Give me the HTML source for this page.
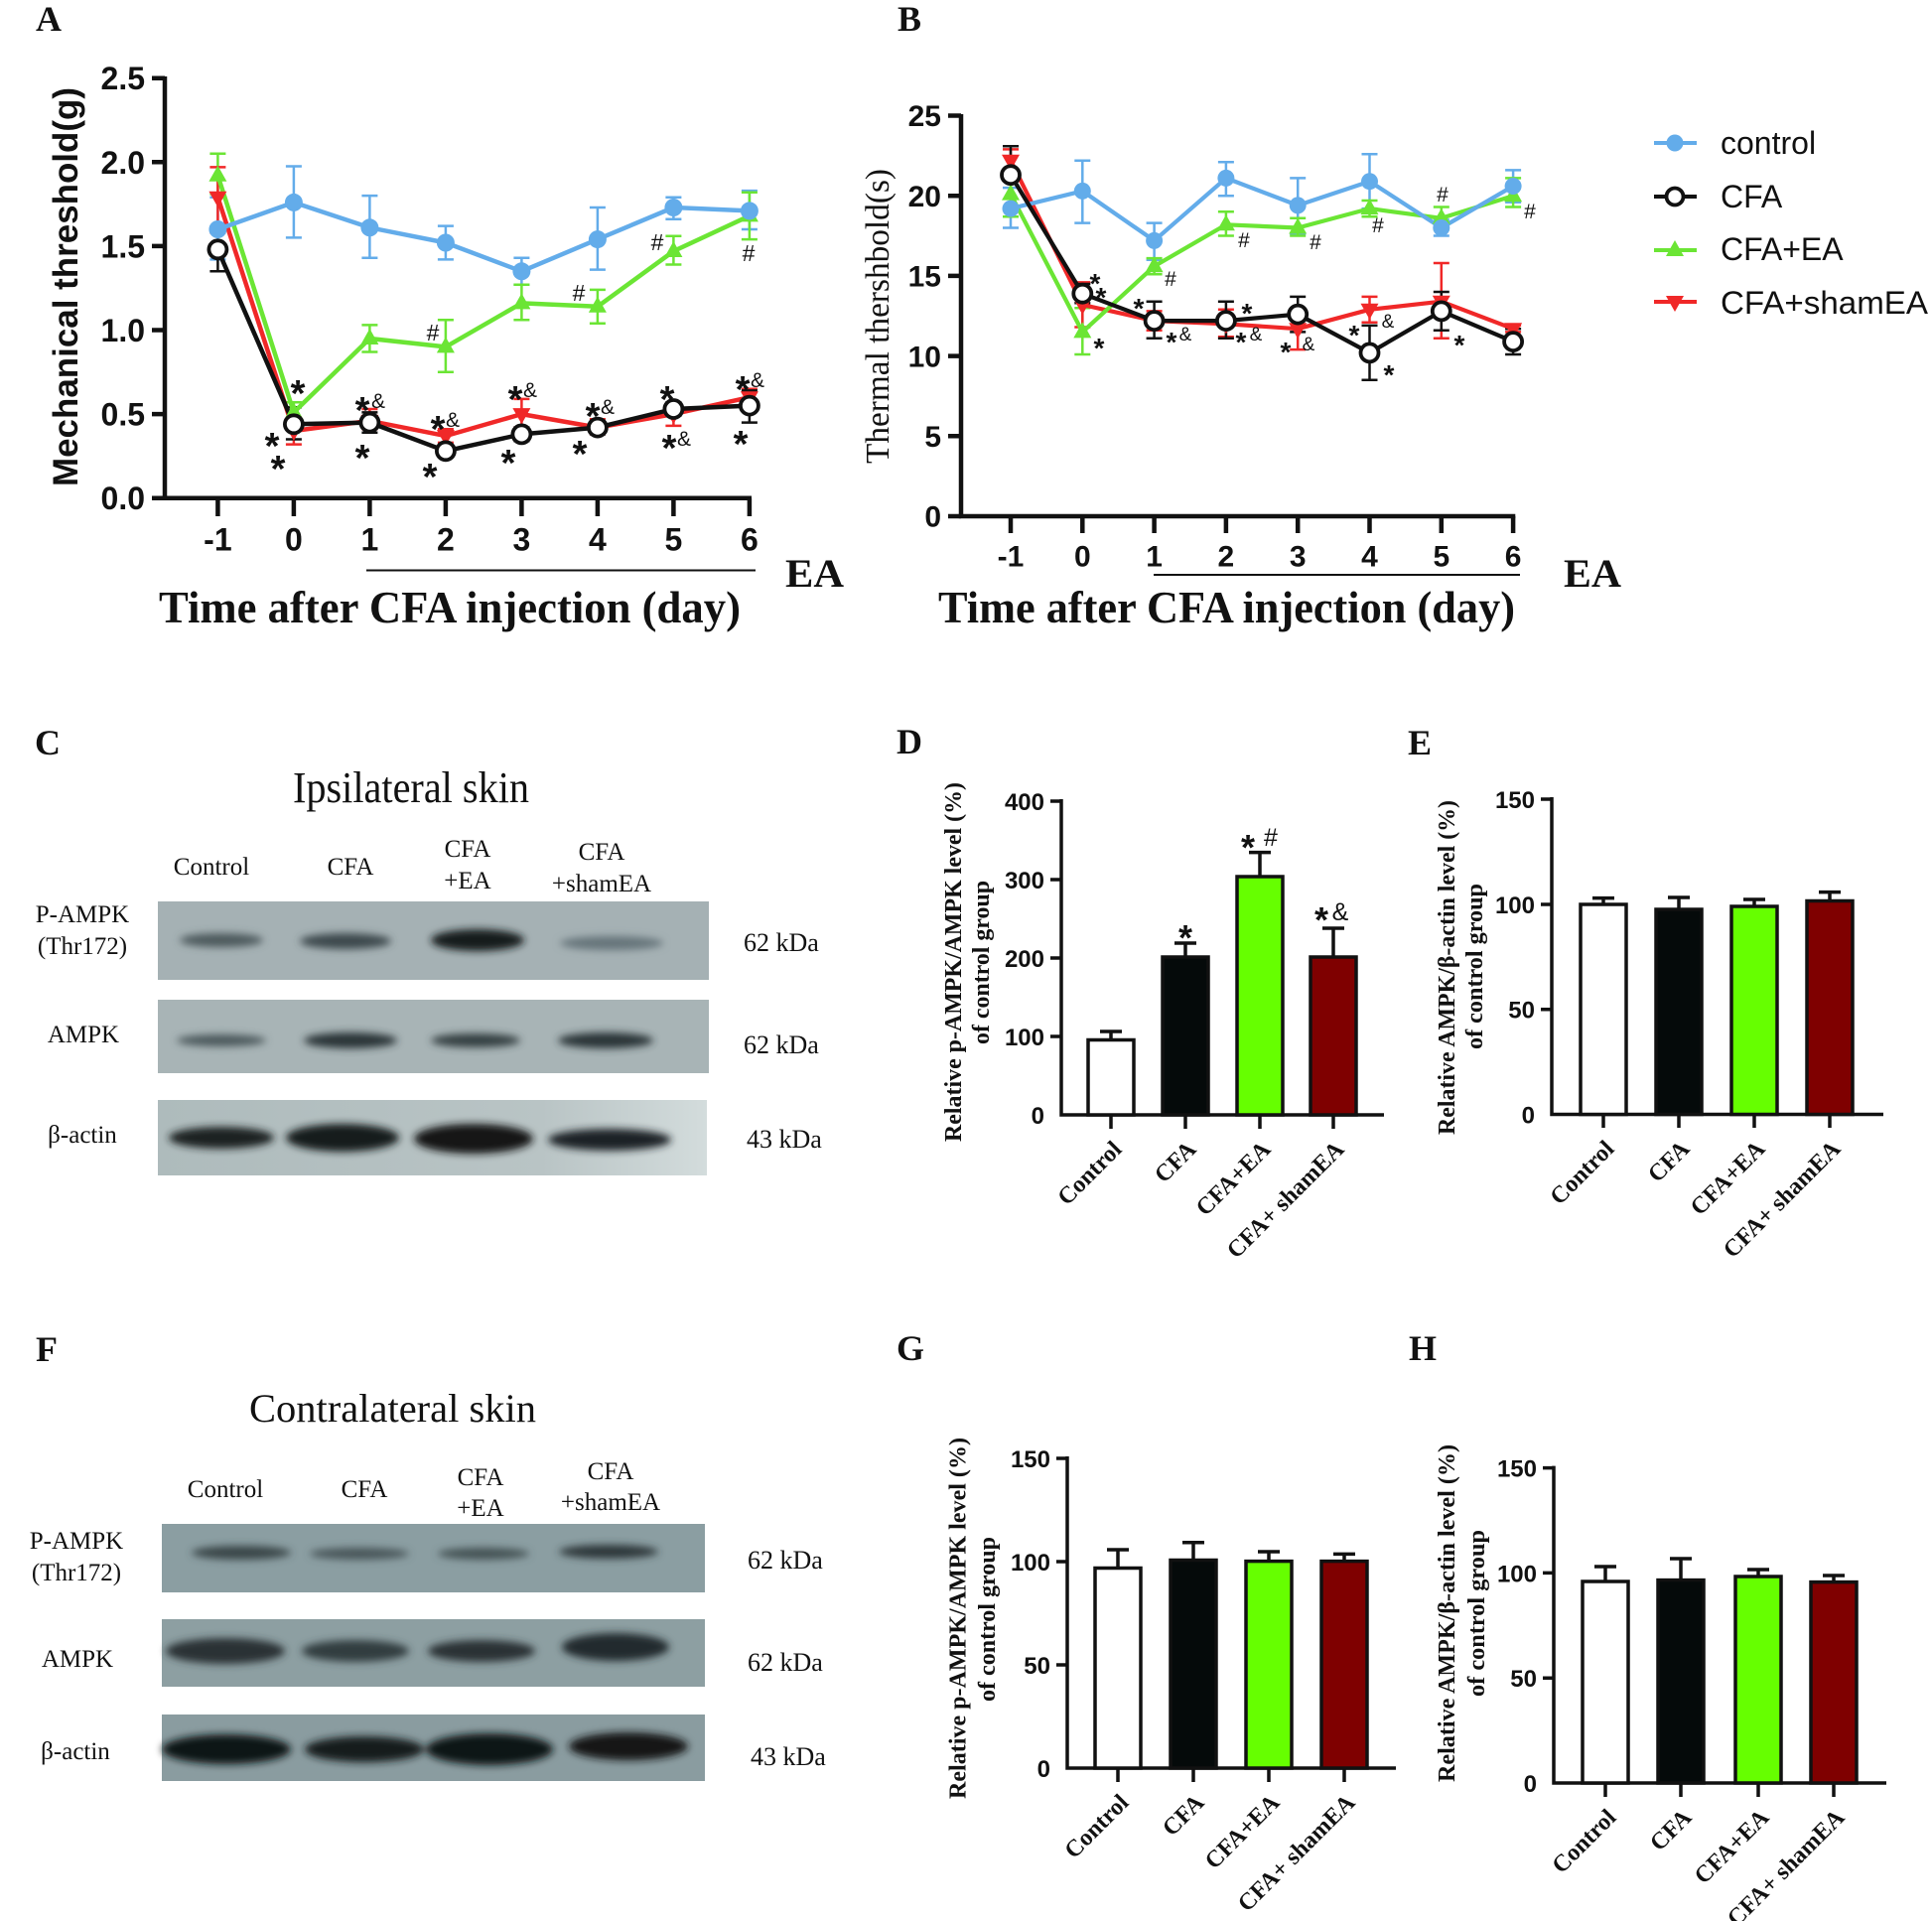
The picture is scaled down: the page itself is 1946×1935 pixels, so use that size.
<!DOCTYPE html>
<html><head><meta charset="utf-8"><style>html,body{margin:0;padding:0;background:#fff}svg{display:block}</style></head>
<body>
<svg xmlns="http://www.w3.org/2000/svg" width="1946" height="1935" viewBox="0 0 1946 1935">
<defs>
<filter id="bl" x="-30%" y="-150%" width="160%" height="400%"><feGaussianBlur stdDeviation="4"/></filter>
<linearGradient id="gC3" x1="0" x2="1" y1="0" y2="0"><stop offset="0" stop-color="#aebbbc"/><stop offset="0.7" stop-color="#b9c4c5"/><stop offset="1" stop-color="#d3dcdc"/></linearGradient>
</defs>
<rect width="1946" height="1935" fill="#fff"/>

<g font-family="'Liberation Serif',serif" font-weight="bold" fill="#111">
<text x="36" y="31" font-size="36">A</text>
<text x="904" y="31" font-size="36">B</text>
<text x="35" y="760" font-size="36">C</text>
<text x="903" y="759" font-size="36">D</text>
<text x="1418" y="760" font-size="36">E</text>
<text x="36" y="1371" font-size="36">F</text>
<text x="903" y="1370" font-size="36">G</text>
<text x="1419" y="1370" font-size="36">H</text>
</g>

<!-- ================= PANEL A ================= -->
<g stroke="#111" stroke-width="4.5" fill="none">
<path d="M166 77V503.9M163.8 501.7H757"/>
<path d="M153 78.7H166M153 163.3H166M153 247.9H166M153 332.5H166M153 417.1H166M153 501.7H166"/>
<path d="M219.4 501.7V520M295.9 501.7V520M372.4 501.7V520M448.9 501.7V520M525.4 501.7V520M601.9 501.7V520M678.4 501.7V520M754.9 501.7V520"/>
</g>
<g font-family="'Liberation Sans',sans-serif" font-weight="bold" font-size="32" fill="#111" text-anchor="end">
<text x="146" y="90.2">2.5</text><text x="146" y="174.8">2.0</text><text x="146" y="259.4">1.5</text><text x="146" y="344">1.0</text><text x="146" y="428.6">0.5</text><text x="146" y="513.2">0.0</text>
</g>
<g font-family="'Liberation Sans',sans-serif" font-weight="bold" font-size="32" fill="#111" text-anchor="middle">
<text x="219.4" y="554.5">-1</text><text x="295.9" y="554.5">0</text><text x="372.4" y="554.5">1</text><text x="448.9" y="554.5">2</text><text x="525.4" y="554.5">3</text><text x="601.9" y="554.5">4</text><text x="678.4" y="554.5">5</text><text x="754.9" y="554.5">6</text>
</g>
<text transform="translate(78,289) rotate(-90)" text-anchor="middle" font-family="'Liberation Sans',sans-serif" font-weight="bold" font-size="35" fill="#111" textLength="402" lengthAdjust="spacingAndGlyphs">Mechanical threshold(g)</text>
<path d="M369 574.5H761" stroke="#111" stroke-width="2"/>
<text x="791" y="591" font-family="'Liberation Serif',serif" font-weight="bold" font-size="40" fill="#111" textLength="59" lengthAdjust="spacingAndGlyphs">EA</text>
<text x="160" y="627" font-family="'Liberation Serif',serif" font-weight="bold" font-size="46" fill="#111" textLength="586" lengthAdjust="spacingAndGlyphs">Time after CFA injection (day)</text>

<g fill="none" stroke-width="2.5">
<path stroke="#63acea" d="M219.4 198.8V261.4M211.4 198.8h16M211.4 261.4h16M295.9 167.5V239.4M287.9 167.5h16M287.9 239.4h16M372.4 197.1V259.7M364.4 197.1h16M364.4 259.7h16M448.9 227.6V261.4M440.9 227.6h16M440.9 261.4h16M525.4 259.7V286.8M517.4 259.7h16M517.4 286.8h16M601.9 209V271.6M593.9 209h16M593.9 271.6h16M678.4 198.8V220.8M670.4 198.8h16M670.4 220.8h16M754.9 192.1V231M746.9 192.1h16M746.9 231h16"/>
<path stroke="#6be534" d="M219.4 154.8V195.4M211.4 154.8h16M211.4 195.4h16M295.9 405.3V425.6M287.9 405.3h16M287.9 425.6h16M372.4 327.4V354.5M364.4 327.4h16M364.4 354.5h16M448.9 322.3V374.8M440.9 322.3h16M440.9 374.8h16M525.4 286.8V322.3M517.4 286.8h16M517.4 322.3h16M601.9 291.9V325.7M593.9 291.9h16M593.9 325.7h16M678.4 237.7V266.5M670.4 237.7h16M670.4 266.5h16M754.9 193.8V241.1M746.9 193.8h16M746.9 241.1h16"/>
<path stroke="#f02828" d="M219.4 168.4V234.4M211.4 168.4h16M211.4 234.4h16M295.9 420.5V447.6M287.9 420.5h16M287.9 447.6h16M372.4 412V432.3M364.4 412h16M364.4 432.3h16M448.9 432.3V445.9M440.9 432.3h16M440.9 445.9h16M525.4 401.9V430.6M517.4 401.9h16M517.4 430.6h16M601.9 422.2V437.4M593.9 422.2h16M593.9 437.4h16M678.4 408.6V428.9M670.4 408.6h16M670.4 428.9h16M754.9 391.7V407M746.9 391.7h16M746.9 407h16"/>
<path stroke="#111" d="M219.4 251.3V273.3M211.4 273.3h16M295.9 410.3V442.5M287.9 410.3h16M287.9 442.5h16M372.4 415.4V435.7M364.4 415.4h16M364.4 435.7h16M448.9 449.2V459.4M440.9 449.2h16M440.9 459.4h16M525.4 430.6V444.2M517.4 430.6h16M517.4 444.2h16M601.9 423.9V437.4M593.9 423.9h16M593.9 437.4h16M678.4 405.3V418.8M670.4 405.3h16M670.4 418.8h16M754.9 393.4V425.6M746.9 393.4h16M746.9 425.6h16"/>
</g>
<g fill="none" stroke-width="4.5" stroke-linejoin="round">
<polyline stroke="#f02828" points="219.4,198.8 295.9,434 372.4,423.9 448.9,439.1 525.4,417.1 601.9,430.6 678.4,417.1 754.9,400.2"/>
<polyline stroke="#6be534" points="219.4,176.8 295.9,415.4 372.4,341 448.9,349.4 525.4,305.4 601.9,308.8 678.4,253 754.9,217.4"/>
<polyline stroke="#63acea" points="219.4,231 295.9,203.9 372.4,229.3 448.9,244.5 525.4,273.3 601.9,241.1 678.4,209 754.9,212.4"/>
<polyline stroke="#111" points="219.4,251.3 295.9,427.3 372.4,425.6 448.9,454.3 525.4,437.4 601.9,430.6 678.4,412 754.9,408.6"/>
</g>
<path fill="#f02828" d="M219.4 208.8l9 -16h-18zM295.9 444l9 -16h-18zM372.4 433.9l9 -16h-18zM448.9 449.1l9 -16h-18zM525.4 427.1l9 -16h-18zM601.9 440.6l9 -16h-18zM678.4 427.1l9 -16h-18zM754.9 410.2l9 -16h-18z"/>
<path fill="#6be534" d="M219.4 166.8l9 16h-18zM295.9 405.4l9 16h-18zM372.4 331l9 16h-18zM448.9 339.4l9 16h-18zM525.4 295.4l9 16h-18zM601.9 298.8l9 16h-18zM678.4 243l9 16h-18zM754.9 207.4l9 16h-18z"/>
<g fill="#63acea">
<circle cx="219.4" cy="231" r="9"/><circle cx="295.9" cy="203.9" r="9"/><circle cx="372.4" cy="229.3" r="9"/><circle cx="448.9" cy="244.5" r="9"/><circle cx="525.4" cy="273.3" r="9"/><circle cx="601.9" cy="241.1" r="9"/><circle cx="678.4" cy="209" r="9"/><circle cx="754.9" cy="212.4" r="9"/>
</g>
<g fill="#fff" stroke="#111" stroke-width="3.8">
<circle cx="219.4" cy="251.3" r="9"/><circle cx="295.9" cy="427.3" r="9"/><circle cx="372.4" cy="425.6" r="9"/><circle cx="448.9" cy="454.3" r="9"/><circle cx="525.4" cy="437.4" r="9"/><circle cx="601.9" cy="430.6" r="9"/><circle cx="678.4" cy="412" r="9"/><circle cx="754.9" cy="408.6" r="9"/>
</g>
<g font-family="'Liberation Sans',sans-serif" font-weight="bold" fill="#111" text-anchor="middle">
<g font-size="38">
<text x="300" y="409">*</text><text x="274" y="462">*</text><text x="280" y="485">*</text>
<text x="365" y="426">*</text><text x="365" y="474">*</text>
<text x="441" y="445">*</text><text x="433" y="493">*</text>
<text x="519" y="415">*</text><text x="512" y="479">*</text>
<text x="597" y="432">*</text><text x="584" y="470">*</text>
<text x="672" y="415">*</text><text x="674" y="464">*</text>
<text x="748" y="405">*</text><text x="746" y="460">*</text>
</g>
<g font-size="21" font-weight="normal">
<text x="381" y="411">&amp;</text><text x="456" y="430">&amp;</text><text x="534" y="400">&amp;</text><text x="612" y="417">&amp;</text><text x="689" y="449">&amp;</text><text x="763" y="390">&amp;</text>
</g>
<g font-size="23" font-weight="normal">
<text x="436" y="343">#</text><text x="583" y="303">#</text><text x="662" y="252">#</text><text x="754" y="263">#</text>
</g>
</g>

<!-- ================= PANEL B ================= -->
<g stroke="#111" stroke-width="4.5" fill="none">
<path d="M968 115V522.2M965.8 520H1526.3"/>
<path d="M955 116.5H968M955 197.2H968M955 277.9H968M955 358.6H968M955 439.3H968M955 520H968"/>
<path d="M1018 520V537M1090.3 520V537M1162.6 520V537M1234.9 520V537M1307.2 520V537M1379.5 520V537M1451.8 520V537M1524.1 520V537"/>
</g>
<g font-family="'Liberation Sans',sans-serif" font-weight="bold" font-size="30" fill="#111" text-anchor="end">
<text x="948" y="127.2">25</text><text x="948" y="207.9">20</text><text x="948" y="288.6">15</text><text x="948" y="369.3">10</text><text x="948" y="450">5</text><text x="948" y="530.7">0</text>
</g>
<g font-family="'Liberation Sans',sans-serif" font-weight="bold" font-size="30" fill="#111" text-anchor="middle">
<text x="1018" y="570.7">-1</text><text x="1090.3" y="570.7">0</text><text x="1162.6" y="570.7">1</text><text x="1234.9" y="570.7">2</text><text x="1307.2" y="570.7">3</text><text x="1379.5" y="570.7">4</text><text x="1451.8" y="570.7">5</text><text x="1524.1" y="570.7">6</text>
</g>
<text transform="translate(895,318.5) rotate(-90)" text-anchor="middle" font-family="'Liberation Serif',serif" font-size="34" fill="#111" textLength="297" lengthAdjust="spacingAndGlyphs">Thermal thershbold(s)</text>
<path d="M1162 579H1531" stroke="#111" stroke-width="2"/>
<text x="1575" y="591" font-family="'Liberation Serif',serif" font-weight="bold" font-size="40" fill="#111" textLength="58" lengthAdjust="spacingAndGlyphs">EA</text>
<text x="945" y="627" font-family="'Liberation Serif',serif" font-weight="bold" font-size="46" fill="#111" textLength="581" lengthAdjust="spacingAndGlyphs">Time after CFA injection (day)</text>

<g fill="none" stroke-width="2.5">
<path stroke="#63acea" d="M1018 189.1V229.5M1010 189.1h16M1010 229.5h16M1090.3 161.7V224.6M1082.3 161.7h16M1082.3 224.6h16M1162.6 224.6V261.8M1154.6 224.6h16M1154.6 261.8h16M1234.9 163.3V197.2M1226.9 163.3h16M1226.9 197.2h16M1307.2 179.4V235.9M1299.2 179.4h16M1299.2 235.9h16M1379.5 155.2V210.1M1371.5 155.2h16M1371.5 210.1h16M1451.8 221.4V237.5M1443.8 221.4h16M1443.8 237.5h16M1524.1 171.4V203.7M1516.1 171.4h16M1516.1 203.7h16"/>
<path stroke="#6be534" d="M1018 181.1V218.2M1010 181.1h16M1010 218.2h16M1090.3 310.2V357M1082.3 310.2h16M1082.3 357h16M1162.6 260.1V276.3M1154.6 260.1h16M1154.6 276.3h16M1234.9 213.3V237.5M1226.9 213.3h16M1226.9 237.5h16M1307.2 219.8V237.5M1299.2 219.8h16M1299.2 237.5h16M1379.5 202V218.2M1371.5 202h16M1371.5 218.2h16M1451.8 208.5V231.1M1443.8 208.5h16M1443.8 231.1h16M1524.1 179.4V208.5M1516.1 179.4h16M1516.1 208.5h16"/>
<path stroke="#f02828" d="M1018 150.4V173M1010 150.4h16M1010 173h16M1090.3 284.4V329.5M1082.3 284.4h16M1082.3 329.5h16M1162.6 313.4V332.8M1154.6 313.4h16M1154.6 332.8h16M1234.9 311.8V339.2M1226.9 311.8h16M1226.9 339.2h16M1307.2 311.8V352.1M1299.2 311.8h16M1299.2 352.1h16M1379.5 298.9V324.7M1371.5 298.9h16M1371.5 324.7h16M1451.8 265V340.8M1443.8 265h16M1443.8 340.8h16M1524.1 327.9V334.4M1516.1 327.9h16M1516.1 334.4h16"/>
<path stroke="#111" d="M1018 147.2V176.2M1010 147.2h16M1090.3 286V305.3M1082.3 286h16M1082.3 305.3h16M1162.6 303.7V340.8M1154.6 303.7h16M1154.6 340.8h16M1234.9 303.7V340.8M1226.9 303.7h16M1226.9 340.8h16M1307.2 298.9V334.4M1299.2 298.9h16M1299.2 334.4h16M1379.5 327.9V382.8M1371.5 327.9h16M1371.5 382.8h16M1451.8 294V332.8M1443.8 294h16M1443.8 332.8h16M1524.1 331.2V357M1516.1 331.2h16M1516.1 357h16"/>
</g>
<g fill="none" stroke-width="4.2" stroke-linejoin="round">
<polyline stroke="#f02828" points="1018,161.7 1090.3,307 1162.6,323.1 1234.9,326.3 1307.2,331.2 1379.5,311.8 1451.8,303.7 1524.1,331.2"/>
<polyline stroke="#6be534" points="1018,195.6 1090.3,334.4 1162.6,268.2 1234.9,226.3 1307.2,229.5 1379.5,210.1 1451.8,219.8 1524.1,197.2"/>
<polyline stroke="#63acea" points="1018,210.1 1090.3,192.4 1162.6,242.4 1234.9,179.4 1307.2,206.9 1379.5,182.7 1451.8,229.5 1524.1,187.5"/>
<polyline stroke="#111" points="1018,176.2 1090.3,295.7 1162.6,323.1 1234.9,323.1 1307.2,316.6 1379.5,355.4 1451.8,313.4 1524.1,344.1"/>
</g>
<path fill="#f02828" d="M1018 171.7l9 -16h-18zM1090.3 317l9 -16h-18zM1162.6 333.1l9 -16h-18zM1234.9 336.3l9 -16h-18zM1307.2 341.2l9 -16h-18zM1379.5 321.8l9 -16h-18zM1451.8 313.7l9 -16h-18zM1524.1 341.2l9 -16h-18z"/>
<path fill="#6be534" d="M1018 185.6l9 16h-18zM1090.3 324.4l9 16h-18zM1162.6 258.2l9 16h-18zM1234.9 216.3l9 16h-18zM1307.2 219.5l9 16h-18zM1379.5 200.1l9 16h-18zM1451.8 209.8l9 16h-18zM1524.1 187.2l9 16h-18z"/>
<g fill="#63acea">
<circle cx="1018" cy="210.1" r="8.5"/><circle cx="1090.3" cy="192.4" r="8.5"/><circle cx="1162.6" cy="242.4" r="8.5"/><circle cx="1234.9" cy="179.4" r="8.5"/><circle cx="1307.2" cy="206.9" r="8.5"/><circle cx="1379.5" cy="182.7" r="8.5"/><circle cx="1451.8" cy="229.5" r="8.5"/><circle cx="1524.1" cy="187.5" r="8.5"/>
</g>
<g fill="#fff" stroke="#111" stroke-width="3.8">
<circle cx="1018" cy="176.2" r="9"/><circle cx="1090.3" cy="295.7" r="9"/><circle cx="1162.6" cy="323.1" r="9"/><circle cx="1234.9" cy="323.1" r="9"/><circle cx="1307.2" cy="316.6" r="9"/><circle cx="1379.5" cy="355.4" r="9"/><circle cx="1451.8" cy="313.4" r="9"/><circle cx="1524.1" cy="344.1" r="9"/>
</g>
<g font-family="'Liberation Sans',sans-serif" font-weight="bold" fill="#111" text-anchor="middle">
<g font-size="28">
<text x="1103" y="295">*</text><text x="1109" y="309">*</text><text x="1107" y="360">*</text><text x="1147" y="320">*</text><text x="1180" y="354">*</text><text x="1256" y="325">*</text><text x="1250" y="354">*</text><text x="1295" y="364">*</text><text x="1364" y="347">*</text><text x="1399" y="387">*</text><text x="1470" y="357">*</text>
</g>
<g font-size="19" font-weight="normal">
<text x="1194" y="343">&amp;</text><text x="1265" y="343">&amp;</text><text x="1318" y="353">&amp;</text><text x="1398" y="330">&amp;</text>
</g>
<g font-size="21" font-weight="normal">
<text x="1179" y="288">#</text><text x="1253" y="249">#</text><text x="1325" y="251">#</text><text x="1388" y="234">#</text><text x="1453" y="203">#</text><text x="1541" y="220">#</text>
</g>
</g>
<g stroke-width="4" fill="none">
<path d="M1666 144H1709" stroke="#63acea"/><path d="M1666 198H1709" stroke="#111"/><path d="M1666 252H1709" stroke="#6be534"/><path d="M1666 304H1709" stroke="#f02828"/>
</g>
<circle cx="1687" cy="144" r="8.5" fill="#63acea"/>
<circle cx="1687" cy="198" r="8.5" fill="#fff" stroke="#111" stroke-width="3.8"/>
<path d="M1687 242l9 16h-18z" fill="#6be534"/>
<path d="M1687 314l9 -16h-18z" fill="#f02828"/>
<g font-family="'Liberation Sans',sans-serif" font-size="32" fill="#111">
<text x="1733" y="155">control</text><text x="1733" y="209">CFA</text><text x="1733" y="262">CFA+EA</text><text x="1733" y="316" textLength="209" lengthAdjust="spacingAndGlyphs">CFA+shamEA</text>
</g>

<!-- ================= PANEL C ================= -->
<rect x="159" y="908" width="555" height="79" fill="#a5b1b4"/>
<rect x="159" y="1007" width="555" height="74" fill="#a8b4b6"/>
<rect x="159" y="1108" width="553" height="76" fill="url(#gC3)"/>
<g filter="url(#bl)">
<ellipse cx="223" cy="947" rx="42" ry="7" fill="#4d5a5d"/>
<ellipse cx="348" cy="948" rx="46" ry="8" fill="#3e4a4d"/>
<ellipse cx="481" cy="947" rx="47" ry="11" fill="#141a1c"/>
<ellipse cx="616" cy="950" rx="52" ry="7" fill="#66757a"/>
<ellipse cx="223" cy="1048" rx="45" ry="6" fill="#4b585b"/>
<ellipse cx="353" cy="1048" rx="47" ry="8" fill="#2c3639"/>
<ellipse cx="479" cy="1048" rx="45" ry="7" fill="#343f42"/>
<ellipse cx="610" cy="1048" rx="48" ry="8" fill="#2a3437"/>
<ellipse cx="223" cy="1146" rx="53" ry="11" fill="#1a2022"/>
<ellipse cx="345" cy="1146" rx="57" ry="14" fill="#161c1e"/>
<ellipse cx="477" cy="1147" rx="60" ry="15" fill="#121719"/>
<ellipse cx="614" cy="1148" rx="62" ry="11" fill="#1c2325"/>
</g>
<g font-family="'Liberation Serif',serif" fill="#111">
<text x="295" y="808" font-size="44" textLength="238" lengthAdjust="spacingAndGlyphs">Ipsilateral skin</text>
<g font-size="25" text-anchor="middle">
<text x="213" y="881">Control</text><text x="353" y="881">CFA</text>
<text x="471" y="863">CFA</text><text x="471" y="895">+EA</text>
<text x="606" y="866">CFA</text><text x="606" y="898">+shamEA</text>
<text x="83" y="929">P-AMPK</text><text x="83" y="961">(Thr172)</text>
<text x="84" y="1050">AMPK</text><text x="83" y="1151">β-actin</text>
</g>
<g font-size="26">
<text x="749" y="958">62 kDa</text><text x="749" y="1061">62 kDa</text><text x="752" y="1156">43 kDa</text>
</g>
</g>

<!-- ================= PANEL F ================= -->
<rect x="163" y="1535" width="547" height="69" fill="#8b9ea2"/>
<rect x="163" y="1631" width="547" height="68" fill="#8d9fa2"/>
<rect x="163" y="1727" width="547" height="67" fill="#8a9ca0"/>
<g filter="url(#bl)">
<ellipse cx="243" cy="1564" rx="50" ry="7" fill="#3a4649"/>
<ellipse cx="362" cy="1565" rx="50" ry="6" fill="#4a575a"/>
<ellipse cx="487" cy="1565" rx="46" ry="6" fill="#455255"/>
<ellipse cx="613" cy="1563" rx="50" ry="7" fill="#2d383b"/>
<ellipse cx="227" cy="1663" rx="60" ry="13" fill="#2a3336"/>
<ellipse cx="358" cy="1663" rx="54" ry="11" fill="#323c3f"/>
<ellipse cx="485" cy="1663" rx="54" ry="11" fill="#2a3336"/>
<ellipse cx="620" cy="1659" rx="54" ry="14" fill="#232c2f"/>
<ellipse cx="228" cy="1762" rx="65" ry="15" fill="#0f1416"/>
<ellipse cx="367" cy="1762" rx="60" ry="13" fill="#141a1c"/>
<ellipse cx="493" cy="1762" rx="64" ry="16" fill="#0e1315"/>
<ellipse cx="633" cy="1759" rx="60" ry="14" fill="#121719"/>
</g>
<g font-family="'Liberation Serif',serif" fill="#111">
<text x="251" y="1432" font-size="40" textLength="289" lengthAdjust="spacingAndGlyphs">Contralateral skin</text>
<g font-size="25" text-anchor="middle">
<text x="227" y="1508">Control</text><text x="367" y="1508">CFA</text>
<text x="484" y="1496">CFA</text><text x="484" y="1527">+EA</text>
<text x="615" y="1490">CFA</text><text x="615" y="1521">+shamEA</text>
<text x="77" y="1560">P-AMPK</text><text x="77" y="1592">(Thr172)</text>
<text x="78" y="1679">AMPK</text><text x="76" y="1772">β-actin</text>
</g>
<g font-size="26">
<text x="753" y="1580">62 kDa</text><text x="753" y="1683">62 kDa</text><text x="756" y="1778">43 kDa</text>
</g>
</g>

<!-- ================= PANEL D ================= -->
<g stroke="#111" stroke-width="3.5" fill="none">
<path d="M1069 805V1124.7M1067.3 1123H1394"/>
<path d="M1058 807H1069M1058 886H1069M1058 965H1069M1058 1044H1069"/>
<path d="M1119 1123V1137M1194 1123V1137M1269 1123V1137M1343 1123V1137"/>
<path d="M1119 1047.5V1039M1108 1039h22M1194 964V950M1183 950h22M1269 883V858.6M1258 858.6h22M1343 964V935M1332 935h22"/>
</g>
<g stroke="#111" stroke-width="3.5">
<rect x="1096" y="1047.5" width="46" height="75.5" fill="#fff"/>
<rect x="1171" y="964" width="46" height="159" fill="#050a0a"/>
<rect x="1246" y="883" width="46" height="240" fill="#66ff00"/>
<rect x="1320" y="964" width="46" height="159" fill="#7f0000"/>
</g>
<g font-family="'Liberation Sans',sans-serif" font-weight="bold" font-size="24" fill="#111" text-anchor="end">
<text x="1052" y="816">400</text><text x="1052" y="895">300</text><text x="1052" y="974">200</text><text x="1052" y="1053">100</text><text x="1052" y="1132">0</text>
</g>
<g font-family="'Liberation Sans',sans-serif" font-weight="bold" fill="#111" text-anchor="middle">
<text x="1194" y="957" font-size="36">*</text>
<text x="1257" y="866" font-size="36">*</text><text x="1280" y="852" font-size="25" font-weight="normal">#</text>
<text x="1331" y="939" font-size="36">*</text><text x="1350" y="927" font-size="25" font-weight="normal">&amp;</text>
</g>
<g font-family="'Liberation Serif',serif" font-weight="bold" font-size="24" fill="#111">
<text transform="translate(968,969) rotate(-90)" text-anchor="middle" textLength="362" lengthAdjust="spacingAndGlyphs">Relative p-AMPK/AMPK level (%)</text>
<text transform="translate(996,969.5) rotate(-90)" text-anchor="middle" textLength="165" lengthAdjust="spacingAndGlyphs">of control group</text>
<g text-anchor="end">
<text transform="translate(1131,1159) rotate(-45)">Control</text>
<text transform="translate(1206,1159) rotate(-45)">CFA</text>
<text transform="translate(1281,1159) rotate(-45)">CFA+EA</text>
<text transform="translate(1355,1159) rotate(-45)">CFA+ shamEA</text>
</g>
</g>

<!-- ================= PANEL E ================= -->
<g stroke="#111" stroke-width="3.5" fill="none">
<path d="M1563 803V1124.2M1561.3 1122.5H1897"/>
<path d="M1552 805H1563M1552 911H1563M1552 1016.7H1563"/>
<path d="M1615 1122.5V1136M1691 1122.5V1136M1767 1122.5V1136M1843 1122.5V1136"/>
<path d="M1615 911V904.6M1604 904.6h22M1691 916V904M1680 904h22M1767 913V906M1756 906h22M1843 907.5V898.6M1832 898.6h22"/>
</g>
<g stroke="#111" stroke-width="3.5">
<rect x="1592" y="911" width="46" height="211.5" fill="#fff"/>
<rect x="1668" y="916" width="46" height="206.5" fill="#050a0a"/>
<rect x="1744" y="913" width="46" height="209.5" fill="#66ff00"/>
<rect x="1820" y="907.5" width="46" height="215" fill="#7f0000"/>
</g>
<g font-family="'Liberation Sans',sans-serif" font-weight="bold" font-size="24" fill="#111" text-anchor="end">
<text x="1546" y="814">150</text><text x="1546" y="920">100</text><text x="1546" y="1025.7">50</text><text x="1546" y="1131.5">0</text>
</g>
<g font-family="'Liberation Serif',serif" font-weight="bold" font-size="24" fill="#111">
<text transform="translate(1465,974.5) rotate(-90)" text-anchor="middle" textLength="337" lengthAdjust="spacingAndGlyphs">Relative AMPK/β-actin level (%)</text>
<text transform="translate(1493,973.5) rotate(-90)" text-anchor="middle" textLength="167" lengthAdjust="spacingAndGlyphs">of control group</text>
<g text-anchor="end">
<text transform="translate(1627,1158.5) rotate(-45)">Control</text>
<text transform="translate(1703,1158.5) rotate(-45)">CFA</text>
<text transform="translate(1779,1158.5) rotate(-45)">CFA+EA</text>
<text transform="translate(1855,1158.5) rotate(-45)">CFA+ shamEA</text>
</g>
</g>

<!-- ================= PANEL G ================= -->
<g stroke="#111" stroke-width="3.5" fill="none">
<path d="M1075 1467V1782.7M1073.3 1781H1406"/>
<path d="M1064 1469H1075M1064 1573H1075M1064 1677H1075"/>
<path d="M1126 1781V1795M1202 1781V1795M1278 1781V1795M1354 1781V1795"/>
<path d="M1126 1579.5V1561M1115 1561h22M1202 1571.5V1553.7M1191 1553.7h22M1278 1572.6V1563M1267 1563h22M1354 1572.6V1565.4M1343 1565.4h22"/>
</g>
<g stroke="#111" stroke-width="3.5">
<rect x="1103" y="1579.5" width="46" height="201.5" fill="#fff"/>
<rect x="1179" y="1571.5" width="46" height="209.5" fill="#050a0a"/>
<rect x="1255" y="1572.6" width="46" height="208.4" fill="#66ff00"/>
<rect x="1331" y="1572.6" width="46" height="208.4" fill="#7f0000"/>
</g>
<g font-family="'Liberation Sans',sans-serif" font-weight="bold" font-size="24" fill="#111" text-anchor="end">
<text x="1058" y="1478">150</text><text x="1058" y="1582">100</text><text x="1058" y="1686">50</text><text x="1058" y="1790">0</text>
</g>
<g font-family="'Liberation Serif',serif" font-weight="bold" font-size="24" fill="#111">
<text transform="translate(972.5,1630) rotate(-90)" text-anchor="middle" textLength="364" lengthAdjust="spacingAndGlyphs">Relative p-AMPK/AMPK level (%)</text>
<text transform="translate(1002,1631) rotate(-90)" text-anchor="middle" textLength="166" lengthAdjust="spacingAndGlyphs">of control group</text>
<g text-anchor="end">
<text transform="translate(1138,1817) rotate(-45)">Control</text>
<text transform="translate(1214,1817) rotate(-45)">CFA</text>
<text transform="translate(1290,1817) rotate(-45)">CFA+EA</text>
<text transform="translate(1366,1817) rotate(-45)">CFA+ shamEA</text>
</g>
</g>

<!-- ================= PANEL H ================= -->
<g stroke="#111" stroke-width="3.5" fill="none">
<path d="M1565 1476.6V1797.7M1563.3 1796H1900"/>
<path d="M1554 1478.6H1565M1554 1584.4H1565M1554 1690.2H1565"/>
<path d="M1617 1796V1810M1693 1796V1810M1771 1796V1810M1847 1796V1810"/>
<path d="M1617 1593V1578M1606 1578h22M1693 1591.6V1570M1682 1570h22M1771 1588V1581M1760 1581h22M1847 1593.6V1587M1836 1587h22"/>
</g>
<g stroke="#111" stroke-width="3.5">
<rect x="1594" y="1593" width="46" height="203" fill="#fff"/>
<rect x="1670" y="1591.6" width="46" height="204.4" fill="#050a0a"/>
<rect x="1748" y="1588" width="46" height="208" fill="#66ff00"/>
<rect x="1824" y="1593.6" width="46" height="202.4" fill="#7f0000"/>
</g>
<g font-family="'Liberation Sans',sans-serif" font-weight="bold" font-size="24" fill="#111" text-anchor="end">
<text x="1548" y="1487.6">150</text><text x="1548" y="1593.4">100</text><text x="1548" y="1699.2">50</text><text x="1548" y="1805">0</text>
</g>
<g font-family="'Liberation Serif',serif" font-weight="bold" font-size="24" fill="#111">
<text transform="translate(1465,1625) rotate(-90)" text-anchor="middle" textLength="340" lengthAdjust="spacingAndGlyphs">Relative AMPK/β-actin level (%)</text>
<text transform="translate(1495,1625) rotate(-90)" text-anchor="middle" textLength="168" lengthAdjust="spacingAndGlyphs">of control group</text>
<g text-anchor="end">
<text transform="translate(1629,1832) rotate(-45)">Control</text>
<text transform="translate(1705,1832) rotate(-45)">CFA</text>
<text transform="translate(1783,1832) rotate(-45)">CFA+EA</text>
<text transform="translate(1859,1832) rotate(-45)">CFA+ shamEA</text>
</g>
</g>
</svg>
</body></html>
